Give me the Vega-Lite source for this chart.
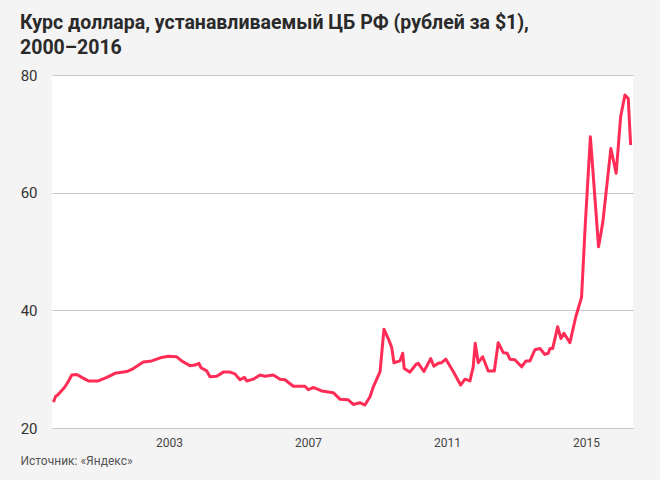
{
  "$schema": "https://vega.github.io/schema/vega-lite/v6.json",
  "width": 581,
  "height": 353,
  "autosize": {"type": "none"},
  "padding": {"left": 52, "top": 75, "right": 27, "bottom": 52},
  "background": "#f4f4f4",
  "view": {"fill": "#ffffff", "stroke": null},
  "config": {"font": "Roboto"},
  "title": {
    "text": ["Курс доллара, устанавливаемый ЦБ РФ (рублей за $1),", "2000–2016"],
    "anchor": "start",
    "frame": "group",
    "dx": -32,
    "fontSize": 19.5,
    "fontWeight": "bold",
    "color": "#2a2a2a",
    "lineHeight": 25,
    "offset": 10
  },
  "data": {
    "values": [
      {"date": "1999-09-02", "rate": 24.4},
      {"date": "1999-09-27", "rate": 25.4},
      {"date": "1999-10-18", "rate": 25.6},
      {"date": "2000-01-03", "rate": 27.0},
      {"date": "2000-02-06", "rate": 27.9},
      {"date": "2000-03-14", "rate": 29.0},
      {"date": "2000-05-06", "rate": 29.1},
      {"date": "2000-06-27", "rate": 28.6},
      {"date": "2000-09-04", "rate": 28.0},
      {"date": "2000-12-18", "rate": 28.0},
      {"date": "2001-03-17", "rate": 28.6},
      {"date": "2001-06-12", "rate": 29.3},
      {"date": "2001-10-13", "rate": 29.6},
      {"date": "2001-12-21", "rate": 30.1},
      {"date": "2002-04-05", "rate": 31.2},
      {"date": "2002-07-02", "rate": 31.4},
      {"date": "2002-10-15", "rate": 32.0},
      {"date": "2002-12-24", "rate": 32.2},
      {"date": "2003-03-22", "rate": 32.1},
      {"date": "2003-05-13", "rate": 31.4},
      {"date": "2003-08-08", "rate": 30.6},
      {"date": "2003-09-30", "rate": 30.7},
      {"date": "2003-11-11", "rate": 31.0},
      {"date": "2003-12-02", "rate": 30.25},
      {"date": "2004-02-01", "rate": 29.7},
      {"date": "2004-03-06", "rate": 28.7},
      {"date": "2004-05-16", "rate": 28.8},
      {"date": "2004-07-24", "rate": 29.5},
      {"date": "2004-10-02", "rate": 29.5},
      {"date": "2004-11-23", "rate": 29.2},
      {"date": "2005-01-16", "rate": 28.2},
      {"date": "2005-03-02", "rate": 28.6},
      {"date": "2005-03-27", "rate": 28.0},
      {"date": "2005-06-04", "rate": 28.3},
      {"date": "2005-08-14", "rate": 29.0},
      {"date": "2005-10-05", "rate": 28.8},
      {"date": "2006-01-01", "rate": 29.0},
      {"date": "2006-03-12", "rate": 28.3},
      {"date": "2006-05-03", "rate": 28.2},
      {"date": "2006-07-30", "rate": 27.1},
      {"date": "2006-11-29", "rate": 27.1},
      {"date": "2007-01-04", "rate": 26.5},
      {"date": "2007-02-25", "rate": 26.9},
      {"date": "2007-05-24", "rate": 26.3},
      {"date": "2007-09-23", "rate": 26.0},
      {"date": "2007-12-02", "rate": 24.9},
      {"date": "2008-02-27", "rate": 24.8},
      {"date": "2008-04-20", "rate": 24.0},
      {"date": "2008-06-29", "rate": 24.3},
      {"date": "2008-08-21", "rate": 23.9},
      {"date": "2008-10-13", "rate": 25.3},
      {"date": "2008-11-17", "rate": 27.0},
      {"date": "2009-01-27", "rate": 29.6},
      {"date": "2009-03-09", "rate": 36.8},
      {"date": "2009-04-23", "rate": 35.2},
      {"date": "2009-05-29", "rate": 33.7},
      {"date": "2009-06-22", "rate": 31.1},
      {"date": "2009-08-24", "rate": 31.4},
      {"date": "2009-09-22", "rate": 32.7},
      {"date": "2009-10-08", "rate": 30.1},
      {"date": "2009-12-07", "rate": 29.5},
      {"date": "2010-02-08", "rate": 30.8},
      {"date": "2010-03-05", "rate": 31.0},
      {"date": "2010-05-03", "rate": 29.6},
      {"date": "2010-07-13", "rate": 31.8},
      {"date": "2010-08-16", "rate": 30.5},
      {"date": "2010-10-01", "rate": 31.0},
      {"date": "2010-11-05", "rate": 31.1},
      {"date": "2010-12-20", "rate": 31.7},
      {"date": "2011-03-07", "rate": 29.6},
      {"date": "2011-05-24", "rate": 27.3},
      {"date": "2011-07-08", "rate": 28.3},
      {"date": "2011-08-30", "rate": 28.0},
      {"date": "2011-10-03", "rate": 30.4},
      {"date": "2011-10-24", "rate": 34.4},
      {"date": "2011-11-25", "rate": 31.1},
      {"date": "2012-01-10", "rate": 32.1},
      {"date": "2012-03-09", "rate": 29.7},
      {"date": "2012-05-12", "rate": 29.7},
      {"date": "2012-06-22", "rate": 34.5},
      {"date": "2012-08-14", "rate": 32.8},
      {"date": "2012-09-25", "rate": 32.7},
      {"date": "2012-10-23", "rate": 31.7},
      {"date": "2012-12-14", "rate": 31.6},
      {"date": "2013-02-23", "rate": 30.4},
      {"date": "2013-04-10", "rate": 31.4},
      {"date": "2013-05-22", "rate": 31.4},
      {"date": "2013-07-13", "rate": 33.3},
      {"date": "2013-09-04", "rate": 33.5},
      {"date": "2013-10-26", "rate": 32.5},
      {"date": "2013-11-30", "rate": 32.7},
      {"date": "2013-12-18", "rate": 33.5},
      {"date": "2014-01-15", "rate": 33.5},
      {"date": "2014-03-09", "rate": 37.2},
      {"date": "2014-04-13", "rate": 35.2},
      {"date": "2014-05-14", "rate": 36.1},
      {"date": "2014-07-16", "rate": 34.5},
      {"date": "2014-09-17", "rate": 39.0},
      {"date": "2014-11-15", "rate": 42.2},
      {"date": "2014-12-24", "rate": 54.5},
      {"date": "2015-02-16", "rate": 69.5},
      {"date": "2015-05-13", "rate": 50.8},
      {"date": "2015-06-27", "rate": 55.0},
      {"date": "2015-09-19", "rate": 67.5},
      {"date": "2015-11-14", "rate": 63.3},
      {"date": "2015-12-31", "rate": 72.9},
      {"date": "2016-02-14", "rate": 76.6},
      {"date": "2016-03-20", "rate": 76.0},
      {"date": "2016-04-14", "rate": 68.1}
    ]
  },
  "mark": {"type": "line", "color": "#ff2d55", "strokeWidth": 3, "strokeJoin": "round", "clip": true},
  "encoding": {
    "x": {
      "field": "date",
      "type": "temporal",
      "scale": {
        "type": "utc",
        "domain": [
          {"year": 1999, "month": 8, "date": 19, "utc": true},
          {"year": 2016, "month": 5, "date": 9, "utc": true}
        ]
      },
      "axis": {
        "values": [
          {"year": 2003, "month": 1, "date": 1, "utc": true},
          {"year": 2007, "month": 1, "date": 1, "utc": true},
          {"year": 2011, "month": 1, "date": 1, "utc": true},
          {"year": 2015, "month": 1, "date": 1, "utc": true}
        ],
        "format": "%Y",
        "grid": false,
        "ticks": false,
        "domain": false,
        "labelFontSize": 12,
        "labelColor": "#444444",
        "labelPadding": 9,
        "title": "Источник: «Яндекс»",
        "titleX": -32,
        "titleY": 36,
        "titleAlign": "left",
        "titleBaseline": "alphabetic",
        "titleFontSize": 12,
        "titleFontWeight": "normal",
        "titleColor": "#555555"
      }
    },
    "y": {
      "field": "rate",
      "type": "quantitative",
      "scale": {"domain": [20, 80], "nice": false, "zero": false},
      "axis": {
        "values": [20, 40, 60, 80],
        "grid": true,
        "gridColor": "#c8c8c8",
        "gridWidth": 1,
        "ticks": false,
        "domain": false,
        "labelFontSize": 15,
        "labelColor": "#333333",
        "labelPadding": 15,
        "title": null
      }
    }
  }
}
